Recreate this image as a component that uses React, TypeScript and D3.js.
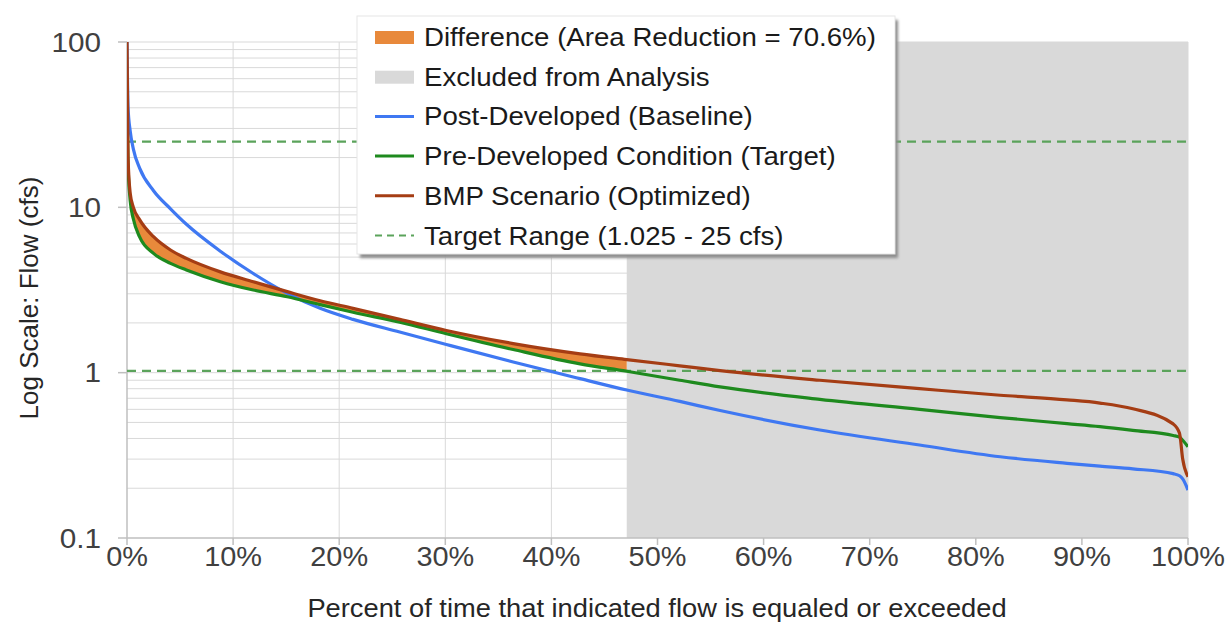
import React from "react";
import * as d3 from "d3";

// Percent of time flow is equaled or exceeded
const percent = [0, 0.1, 0.3, 0.6, 1.2, 2.5, 4.1, 5.6, 8.8, 11.9, 15.1, 18.2, 21.3, 25.7, 30.1, 36.4, 42.7, 47.1, 52.1, 55.9, 65.3, 74.7, 82.3, 88.6, 91.7, 94.8, 98.6, 99.2, 99.5, 100];
const postDeveloped = [100, 40, 29, 22.5, 17.2, 12.6, 9.8, 7.9, 5.43, 3.98, 3.02, 2.45, 2.1, 1.76, 1.48, 1.16, 0.92, 0.785, 0.67, 0.59, 0.45, 0.365, 0.31, 0.283, 0.272, 0.262, 0.245, 0.238, 0.228, 0.195];
const preDeveloped = [40, 18, 11, 8.5, 6.6, 5.27, 4.58, 4.18, 3.55, 3.16, 2.88, 2.58, 2.32, 2.02, 1.72, 1.38, 1.13, 1.02, 0.9, 0.82, 0.69, 0.6, 0.535, 0.492, 0.472, 0.448, 0.417, 0.407, 0.39, 0.356];
const bmpScenario = [100, 20, 12.2, 10, 8.4, 6.64, 5.52, 4.91, 4.07, 3.55, 3.09, 2.72, 2.45, 2.1, 1.8, 1.5, 1.3, 1.2, 1.1, 1.03, 0.9, 0.8, 0.73, 0.685, 0.655, 0.605, 0.49, 0.43, 0.3, 0.235];

const excludedStart = 47.1;
const targetRange = [1.025, 25];
const xTicks = [0, 10, 20, 30, 40, 50, 60, 70, 80, 90, 100];
const yTicks = [0.1, 1, 10, 100];
const legendLabels = [
  "Difference (Area Reduction = 70.6%)",
  "Excluded from Analysis",
  "Post-Developed (Baseline)",
  "Pre-Developed Condition (Target)",
  "BMP Scenario (Optimized)",
  "Target Range (1.025 - 25 cfs)",
];

const W = 1226, H = 629;
const m = { left: 127, right: 1188, top: 42, bottom: 538 };
const FONT = "'Liberation Sans', Arial, sans-serif";
const C = {
  blue: "#3f78f2", green: "#1e8a1e", brown: "#a53d14", orange: "#e8893b",
  gray: "#d9d9d9", grid: "#d9d9d9", dash: "#5ba35b", text: "#404040",
};

export default function App() {
  const x = d3.scaleLinear().domain([0, 100]).range([m.left, m.right]);
  const y = d3.scaleLog().domain([0.1, 100]).range([m.bottom, m.top]);

  const minor: number[] = [];
  for (const dec of [0.1, 1, 10]) for (let k = 2; k <= 10; k++) minor.push(dec * k);

  const mk = (vals: number[]) =>
    d3.line<number>().x((_, i) => x(percent[i])).y((v) => y(v)).curve(d3.curveMonotoneX)(vals) || "";

  const idx = percent.map((_, i) => i).filter((i) => percent[i] <= excludedStart);
  const area = d3.area<number>()
    .x((i) => x(percent[i]))
    .y0((i) => y(preDeveloped[i]))
    .y1((i) => y(bmpScenario[i]))
    .curve(d3.curveMonotoneX)(idx) || "";

  const lx = 357, ly = 16, lw = 538, lh = 238;
  const rowY = (i: number) => 37 + i * 39.7;

  return (
    <svg width={W} height={H} style={{ position: "absolute", left: 0, top: 0, background: "#fff" }} fontFamily={FONT}>
      <defs>
        <filter id="sh" x="-5%" y="-5%" width="110%" height="115%">
          <feGaussianBlur stdDeviation="1.5" />
        </filter>
        <clipPath id="plot">
          <rect x={m.left} y={m.top} width={m.right - m.left} height={m.bottom - m.top} />
        </clipPath>
      </defs>
      {/* gridlines */}
      {minor.map((v) => (
        <line key={"h" + v} x1={m.left} x2={m.right} y1={y(v)} y2={y(v)} stroke={C.grid} strokeWidth={1} />
      ))}
      {xTicks.slice(1).map((t) => (
        <line key={"v" + t} x1={x(t)} x2={x(t)} y1={m.top} y2={m.bottom} stroke={C.grid} strokeWidth={1} />
      ))}
      {/* excluded region */}
      <rect x={x(excludedStart)} y={m.top} width={x(100) - x(excludedStart)} height={m.bottom - m.top} fill={C.gray} />
      {/* axes */}
      <line x1={m.left} x2={m.left} y1={m.top} y2={m.bottom} stroke="#bfbfbf" strokeWidth={1.5} />
      <line x1={m.left} x2={m.right} y1={m.bottom} y2={m.bottom} stroke="#bfbfbf" strokeWidth={1.5} />
      {yTicks.map((t) => (
        <g key={"yt" + t}>
          <line x1={m.left - 9} x2={m.left} y1={y(t)} y2={y(t)} stroke="#bfbfbf" strokeWidth={1.5} />
          <text transform={`translate(101,${y(t) + 9.5}) scale(1.1,1)`} textAnchor="end" fontSize={27} fill={C.text}>{t}</text>
        </g>
      ))}
      {xTicks.map((t) => (
        <g key={"xt" + t}>
          <line x1={x(t)} x2={x(t)} y1={m.bottom} y2={m.bottom + 7} stroke="#bfbfbf" strokeWidth={1.5} />
          <text transform={`translate(${x(t)},566) scale(1.07,1)`} textAnchor="middle" fontSize={27} fill={C.text}>{t + "%"}</text>
        </g>
      ))}
      {/* difference area */}
      <path d={area} fill={C.orange} clipPath="url(#plot)" />
      {/* target range */}
      {targetRange.map((v) => (
        <line key={"tr" + v} x1={m.left} x2={m.right} y1={y(v)} y2={y(v)} stroke={C.dash} strokeWidth={2.2} strokeDasharray="9,6" />
      ))}
      {/* curves */}
      <g clipPath="url(#plot)" fill="none" strokeWidth={3.2} strokeLinejoin="round">
        <path d={mk(postDeveloped)} stroke={C.blue} />
        <path d={mk(preDeveloped)} stroke={C.green} />
        <path d={mk(bmpScenario)} stroke={C.brown} />
      </g>
      {/* axis titles */}
      <text transform="translate(657,617) scale(1.05,1)" textAnchor="middle" fontSize={26} fill="#262626">
        Percent of time that indicated flow is equaled or exceeded
      </text>
      <text transform={`translate(38,${(m.top + m.bottom) / 2 + 8}) rotate(-90)`} textAnchor="middle" fontSize={26} fill="#262626">
        Log Scale: Flow (cfs)
      </text>
      {/* legend */}
      <rect x={lx + 3} y={ly + 4} width={lw} height={lh} fill="#8c8c8c" filter="url(#sh)" />
      <rect x={lx} y={ly} width={lw} height={lh} fill="#fff" stroke="#e6e6e6" />
      {legendLabels.map((lab, i) => {
        const cy = rowY(i);
        let sw: React.ReactNode = null;
        if (i === 0) sw = <rect x={375} y={cy - 6} width={39} height={13} fill={C.orange} />;
        else if (i === 1) sw = <rect x={375} y={cy - 6} width={39} height={13} fill={C.gray} />;
        else if (i === 5) sw = <line x1={375} x2={414} y1={cy} y2={cy} stroke={C.dash} strokeWidth={2.2} strokeDasharray="7,5" />;
        else sw = <line x1={375} x2={414} y1={cy} y2={cy} stroke={[C.blue, C.green, C.brown][i - 2]} strokeWidth={3} />;
        return (
          <g key={lab}>
            {sw}
            <text transform={`translate(424,${cy + 9}) scale(1.063,1)`} fontSize={26} fill="#1a1a1a">{lab}</text>
          </g>
        );
      })}
    </svg>
  );
}
